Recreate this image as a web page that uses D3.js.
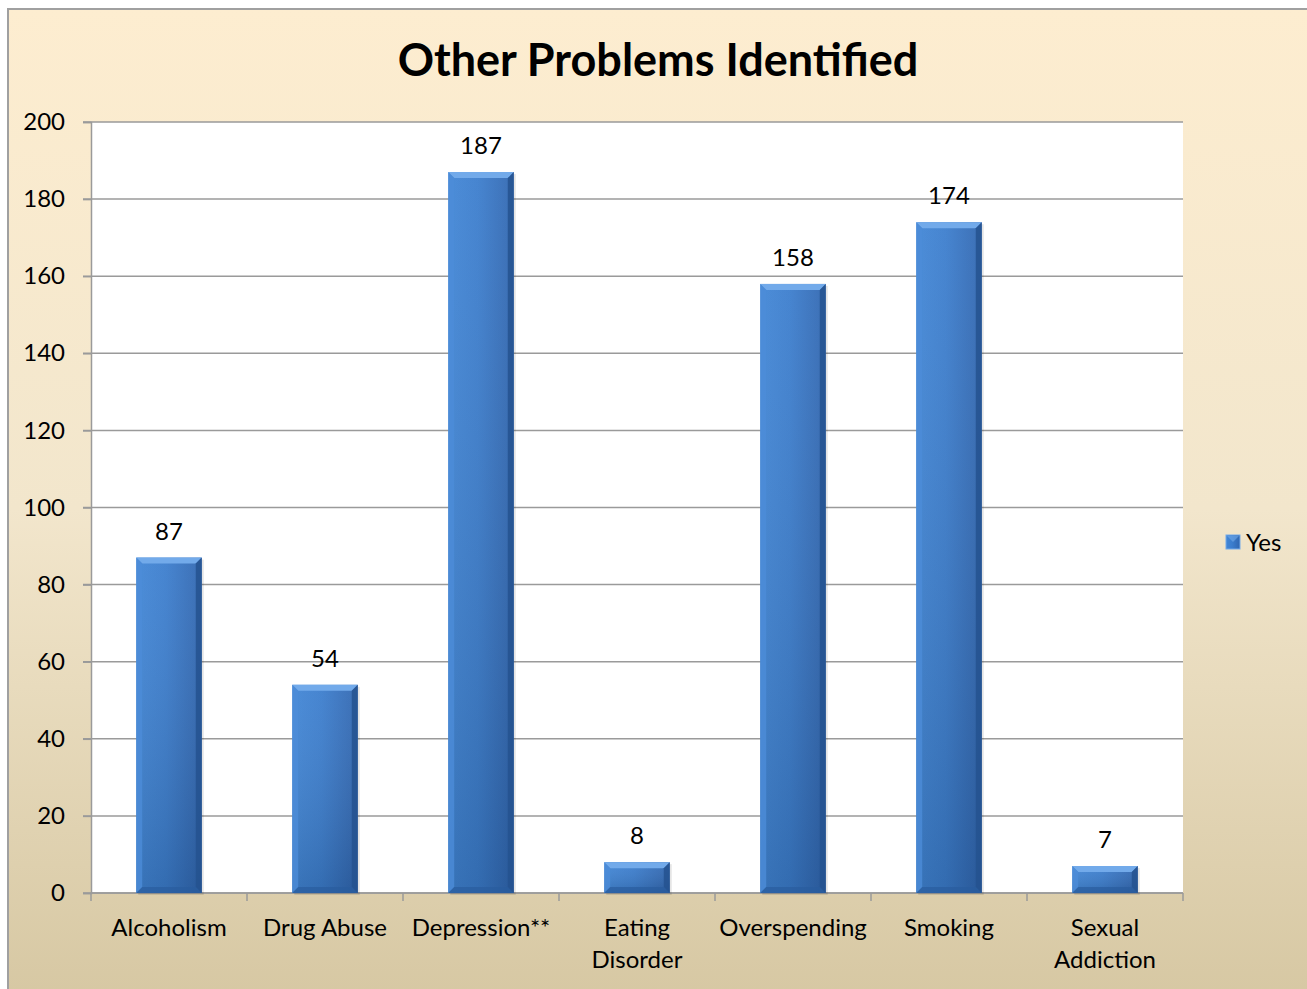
<!DOCTYPE html>
<html>
<head>
<meta charset="utf-8">
<script src="https://cdnjs.cloudflare.com/ajax/libs/d3/7.8.5/d3.min.js"></script>
<style>
  body { margin: 0; background: #fff; }
  svg text { font-family: Lato, "Open Sans", sans-serif; fill: #000; }
</style>
</head>
<body>
<div id="chart"></div>
<script>
var categories = [["Alcoholism"], ["Drug Abuse"], ["Depression**"], ["Eating", "Disorder"], ["Overspending"], ["Smoking"], ["Sexual", "Addiction"]];
var values = [87, 54, 187, 8, 158, 174, 7];
var yTicks = [0, 20, 40, 60, 80, 100, 120, 140, 160, 180, 200];
var seriesName = "Yes";
var title = "Other Problems Identified";

var w = 1307, h = 989;
var plot = { left: 91, top: 122, right: 1183, bottom: 893 };

var svg = d3.select("#chart").append("svg")
    .attr("width", w)
    .attr("height", h);

var defs = svg.append("defs");

// chart background gradient (peach to tan)
var bg = defs.append("linearGradient").attr("id", "bg")
    .attr("x1", 0).attr("y1", 0).attr("x2", 0).attr("y2", 1);
bg.append("stop").attr("offset", "0%").attr("stop-color", "#fdedd0");
bg.append("stop").attr("offset", "50%").attr("stop-color", "#f2e6cc");
bg.append("stop").attr("offset", "100%").attr("stop-color", "#d6c7a2");

// bar body gradient
var bar = defs.append("linearGradient").attr("id", "barGrad")
    .attr("x1", 0).attr("y1", 0).attr("x2", 1).attr("y2", 0);
bar.append("stop").attr("offset", "0%").attr("stop-color", "#4186d6");
bar.append("stop").attr("offset", "45%").attr("stop-color", "#3b7dcd");
bar.append("stop").attr("offset", "100%").attr("stop-color", "#3066b0");

var vshade = defs.append("linearGradient").attr("id", "barShade")
    .attr("x1", 0).attr("y1", 0).attr("x2", 0).attr("y2", 1);
vshade.append("stop").attr("offset", "0%").attr("stop-color", "#ffffff").attr("stop-opacity", 0.06);
vshade.append("stop").attr("offset", "100%").attr("stop-color", "#000000").attr("stop-opacity", 0.14);

svg.append("rect")
    .attr("x", 8).attr("y", 9)
    .attr("width", w + 10).attr("height", h + 10)
    .attr("fill", "url(#bg)")
    .attr("stroke", "#a0a0a0")
    .attr("stroke-width", 2);

svg.append("text")
    .attr("x", 658).attr("y", 76)
    .attr("text-anchor", "middle")
    .style("font-size", "45px")
    .style("font-weight", "bold")
    .text(title);

var x = d3.scaleBand()
    .domain(d3.range(categories.length))
    .range([plot.left, plot.right])
    .paddingInner(0.58)
    .paddingOuter(0.29);

var y = d3.scaleLinear()
    .domain([0, 200])
    .range([plot.bottom, plot.top]);

// plot area
svg.append("rect")
    .attr("x", plot.left).attr("y", plot.top)
    .attr("width", plot.right - plot.left)
    .attr("height", plot.bottom - plot.top)
    .attr("fill", "#fff");

// gridlines
svg.append("g").selectAll("line")
    .data(yTicks)
    .enter().append("line")
    .attr("x1", plot.left - 8).attr("x2", plot.right)
    .attr("y1", function(d) { return y(d); })
    .attr("y2", function(d) { return y(d); })
    .attr("stroke", "#9a9a9a")
    .attr("stroke-width", 1.5);

// y axis
var yAxis = svg.append("g")
    .attr("transform", "translate(" + plot.left + ",0)")
    .call(d3.axisLeft(y).tickValues(yTicks).tickSize(8).tickPadding(18));
yAxis.select(".domain").attr("stroke", "#9a9a9a").attr("stroke-width", 1.5);
yAxis.selectAll(".tick line").attr("stroke", "#9a9a9a").attr("stroke-width", 1.5);
yAxis.selectAll(".tick text")
    .style("font-size", "24px")
    .style("font-family", "Lato, 'Open Sans', sans-serif")
    .attr("fill", "#000");

// x axis with ticks between categories
var xb = svg.append("g");
xb.append("line")
    .attr("x1", plot.left).attr("x2", plot.right)
    .attr("y1", plot.bottom).attr("y2", plot.bottom)
    .attr("stroke", "#9a9a9a").attr("stroke-width", 1.5);
xb.selectAll(".xt")
    .data(d3.range(categories.length + 1))
    .enter().append("line")
    .attr("x1", function(i) { return plot.left + i * (plot.right - plot.left) / categories.length; })
    .attr("x2", function(i) { return plot.left + i * (plot.right - plot.left) / categories.length; })
    .attr("y1", plot.bottom).attr("y2", plot.bottom + 8)
    .attr("stroke", "#9a9a9a").attr("stroke-width", 1.5);

var labels = xb.selectAll(".xl")
    .data(categories)
    .enter().append("text")
    .attr("text-anchor", "middle")
    .style("font-size", "24px")
    .attr("transform", function(d, i) { return "translate(" + (x(i) + x.bandwidth() / 2) + "," + 936 + ")"; });
labels.selectAll("tspan")
    .data(function(d) { return d; })
    .enter().append("tspan")
    .attr("x", 0)
    .attr("dy", function(d, j) { return j === 0 ? 0 : 32; })
    .text(function(d) { return d; });

// bars
var bars = svg.append("g").selectAll("g")
    .data(values)
    .enter().append("g");

bars.append("rect")
    .attr("x", function(d, i) { return x(i) + 2; })
    .attr("y", function(d) { return y(d) + 2; })
    .attr("width", x.bandwidth())
    .attr("height", function(d) { return plot.bottom - y(d); })
    .attr("fill", "#000").attr("opacity", 0.1);

bars.append("rect")
    .attr("x", function(d, i) { return x(i); })
    .attr("y", function(d) { return y(d); })
    .attr("width", x.bandwidth())
    .attr("height", function(d) { return plot.bottom - y(d); })
    .attr("fill", "url(#barGrad)");

bars.append("rect")
    .attr("x", function(d, i) { return x(i); })
    .attr("y", function(d) { return y(d); })
    .attr("width", x.bandwidth())
    .attr("height", function(d) { return plot.bottom - y(d); })
    .attr("fill", "url(#barShade)");

// bevel edges
var bev = 6;
bars.append("path")
    .attr("d", function(d, i) {
        var x0 = x(i), x1 = x(i) + x.bandwidth(), y0 = y(d);
        var b = Math.min(bev, (plot.bottom - y0) / 2);
        return "M" + x0 + "," + y0 + "L" + x1 + "," + y0 + "L" + (x1 - b) + "," + (y0 + b) + "L" + (x0 + b) + "," + (y0 + b) + "Z";
    })
    .attr("fill", "#72aaea");
bars.append("path")
    .attr("d", function(d, i) {
        var x0 = x(i), y0 = y(d), y1 = plot.bottom;
        var b = Math.min(bev, (y1 - y0) / 2);
        return "M" + x0 + "," + y0 + "L" + (x0 + b) + "," + (y0 + b) + "L" + (x0 + b) + "," + (y1 - b) + "L" + x0 + "," + y1 + "Z";
    })
    .attr("fill", "#4c8cd8").attr("opacity", 0.8);
bars.append("path")
    .attr("d", function(d, i) {
        var x1 = x(i) + x.bandwidth(), y0 = y(d), y1 = plot.bottom;
        var b = Math.min(bev, (y1 - y0) / 2);
        return "M" + x1 + "," + y0 + "L" + (x1 - b) + "," + (y0 + b) + "L" + (x1 - b) + "," + (y1 - b) + "L" + x1 + "," + y1 + "Z";
    })
    .attr("fill", "#24528f").attr("opacity", 0.85);
bars.append("path")
    .attr("d", function(d, i) {
        var x0 = x(i), x1 = x(i) + x.bandwidth(), y0 = y(d), y1 = plot.bottom;
        var b = Math.min(bev, (y1 - y0) / 2);
        return "M" + x0 + "," + y1 + "L" + x1 + "," + y1 + "L" + (x1 - b) + "," + (y1 - b) + "L" + (x0 + b) + "," + (y1 - b) + "Z";
    })
    .attr("fill", "#2a5c9e").attr("opacity", 0.7);

// value labels
bars.append("text")
    .attr("x", function(d, i) { return x(i) + x.bandwidth() / 2; })
    .attr("y", function(d) { return y(d) - 18; })
    .attr("text-anchor", "middle")
    .style("font-size", "24px")
    .text(function(d) { return d; });

// legend
var lg = svg.append("g").attr("transform", "translate(1226,535)");
lg.append("rect").attr("width", 14).attr("height", 14).attr("fill", "url(#barGrad)")
    .attr("stroke", "#72aaea").attr("stroke-width", 1);
lg.append("path").attr("d", "M1,1L13,1L7,7Z").attr("fill", "#72aaea").attr("opacity", 0.6);
lg.append("text").attr("x", 20).attr("y", 16).style("font-size", "24px").text(seriesName);
</script>
</body>
</html>
